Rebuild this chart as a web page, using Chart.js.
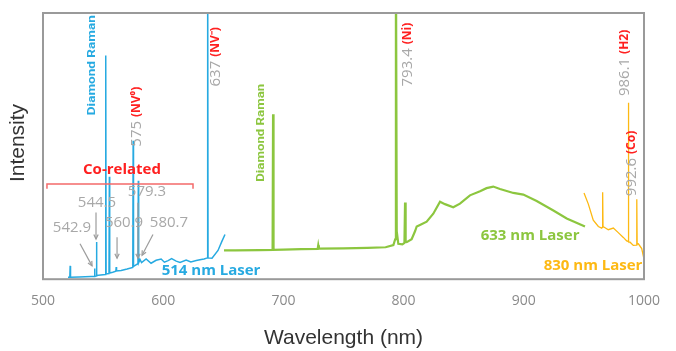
<!DOCTYPE html>
<html>
<head>
<meta charset="utf-8">
<script src="https://cdn.jsdelivr.net/npm/chart.js@4.4.1/dist/chart.umd.min.js"></script>
<style>
    html, body { margin: 0; padding: 0; background: #ffffff; }
    #wrap { width: 676px; height: 351px; }
</style>
</head>
<body>
<div id="wrap"><canvas id="spectrumChart" width="676" height="351"></canvas></div>
<script>
// ========================================
// PL SPECTRA - 514 / 633 / 830 nm LASER
// ========================================

// Eixo X
const xTickValues = [500, 600, 700, 800, 900, 1000];

// 514 nm laser (azul)
const blueWl = [520.8, 522.3, 522.6, 522.9, 530, 540, 542.6, 542.9, 543.2, 544.2, 544.5, 544.8,
    548, 551.9, 552.2, 552.5, 554.9, 555.2, 555.5, 558, 560.6, 560.9, 561.2, 565, 570,
    574.7, 575.0, 575.3, 577, 579.0, 579.3, 579.6, 580.7, 582, 585.8, 589.9, 594.1, 598.3,
    601, 604.1, 607, 610.8, 614, 619.1, 623, 627.5, 631.6, 634, 636.7, 637.0, 637.3,
    640.6, 645.6, 648.9, 651.4];
const blueInt = [0.7, 0.7, 5, 0.7, 0.8, 1.0, 1.0, 4, 1.1, 1.2, 14, 1.4,
    1.6, 1.8, 84, 2.0, 2.1, 38.5, 2.3, 2.6, 3.0, 4.6, 3.1, 3.3, 3.8,
    4.4, 52, 4.8, 5.3, 5.8, 37, 6.2, 7.4, 6.2, 7.6, 6.0, 7.1, 7.6,
    6.4, 7.0, 7.7, 6.8, 6.3, 7.2, 6.5, 7.0, 7.4, 7.6, 8.0, 130, 8.0,
    7.9, 10.8, 14.3, 16.8];

// 633 nm laser (verde)
const greenWl = [650.6, 660, 680, 691.0, 691.4, 691.8, 700, 715, 728.5, 729.0, 729.5, 750, 770,
    785, 791.5, 793.0, 793.6, 794.3, 795.6, 799, 800.7, 801.2, 801.7, 802.6, 806.7, 809.5,
    810.9, 813.6, 819.2, 824.7, 830.3, 834.4, 841.3, 846.9, 855.2, 863.6, 869, 874.6, 880.2,
    891.3, 899.6, 910.7, 924.6, 935.7, 950.9];
const greenInt = [10.8, 10.8, 10.9, 11.0, 62, 11.0, 11.1, 11.3, 11.4, 12.8, 11.5, 11.6, 11.8,
    12.0, 12.8, 15, 130, 18, 13.3, 13.1, 13.6, 28.8, 14.0, 13.9, 15, 18,
    19.8, 20.4, 21.6, 24.6, 29.1, 28.2, 27, 28.4, 31.5, 33, 34.2, 34.8, 33.9,
    32.4, 31.8, 29.4, 25.8, 22.8, 19.8];

// 830 nm laser (laranja)
const orangeWl = [950.1, 953.7, 957.8, 962, 964.8, 965.3, 965.6, 965.9, 966.7, 970.3, 974.5,
    978.6, 982.8, 985.6, 986.7, 987.0, 987.3, 988.4, 991.1, 993.7, 994.0, 994.3, 995.3,
    998.1, 1000];
const orangeInt = [32.4, 28.2, 22.2, 19.8, 19.2, 19.5, 32.7, 19.8, 19.8, 18.6, 19.2,
    17.5, 15.7, 14.4, 14.2, 66.3, 14.0, 13.9, 12.7, 12.8, 30, 13.2, 13.3,
    11.5, 7.5];

const BLUE = '#27aae1';
const GREEN = '#8cc63f';
const ORANGE = '#fdb913';
const RED = '#ff2020';
const GRAY = '#a8a8a8';

function toPoints(xs, ys) {
    return xs.map((x, i) => ({ x: x, y: ys[i] }));
}

// Rótulos verticais (comprimento-de-onda, base em intensidade)
const peakLabels = [
    { wl: 540.8, base: 61.6, len: 100, parts: [{ t: 'Diamond Raman', c: BLUE, f: 'bold 11px Roboto' }] },
    { wl: 578.2, base: 49.8, parts: [{ t: '575 ', c: GRAY, f: '15px "Open Sans"' }, { t: '(NV\u2070)', c: RED, f: 'bold 12px "Open Sans"' }] },
    { wl: 643.9, base: 72.4, parts: [{ t: '637 ', c: GRAY, f: '15px "Open Sans"' }, { t: '(NV\u207B)', c: RED, f: 'bold 12px "Open Sans"' }] },
    { wl: 803.7, base: 72.4, parts: [{ t: '793.4 ', c: GRAY, f: '15px "Open Sans"' }, { t: '(Ni)', c: RED, f: 'bold 12px "Open Sans"' }] },
    { wl: 681.4, base: 36.6, len: 98, parts: [{ t: 'Diamond Raman', c: GREEN, f: 'bold 11px Roboto' }] },
    { wl: 984.2, base: 68.8, parts: [{ t: '986.1 ', c: GRAY, f: '15px "Open Sans"' }, { t: '(H2)', c: RED, f: 'bold 12px "Open Sans"' }] },
    { wl: 990.0, base: 31.2, parts: [{ t: '992.6 ', c: GRAY, f: '15px "Open Sans"' }, { t: '(Co)', c: RED, f: 'bold 12px "Open Sans"' }] }
];

// Rótulos horizontais
const flatLabels = [
    { t: 'Co-related', wl: 565.7, v: 41.2, c: RED, f: 'bold 15px "Open Sans"' },
    { t: '544.5', wl: 544.9, v: 28.7, c: GRAY, f: '15px "Open Sans"' },
    { t: '542.9', wl: 524.1, v: 19.4, c: GRAY, f: '15px "Open Sans"' },
    { t: '560.9', wl: 567.4, v: 21.1, c: GRAY, f: '15px "Open Sans"' },
    { t: '579.3', wl: 586.5, v: 33.0, c: GRAY, f: '15px "Open Sans"' },
    { t: '580.7', wl: 604.8, v: 21.1, c: GRAY, f: '15px "Open Sans"' },
    { t: '514 nm Laser', wl: 639.8, v: 3.2, c: BLUE, f: 'bold 15px "Open Sans"' },
    { t: '633 nm Laser', wl: 905.2, v: 16.5, c: GREEN, f: 'bold 15px "Open Sans"' },
    { t: '830 nm Laser', wl: 957.6, v: 5.0, c: ORANGE, f: 'bold 15px "Open Sans"' }
];

// Setas [wl0, v0, wl1, v1]
const arrows = [
    [530.8, 13.3, 540.8, 5.0],
    [544.1, 25.1, 544.1, 15.1],
    [561.6, 15.8, 561.6, 7.9],
    [579.0, 28.7, 579.0, 7.9],
    [591.5, 16.8, 582.4, 9.0]
];

// Chave "Co-related"
const bracket = { wl0: 503.3, wl1: 624.8, v: 35.8, drop: 1.8 };

const annotationsPlugin = {
    id: 'annotations',
    afterDatasetsDraw(chart) {
        const ctx = chart.ctx;
        const xs = chart.scales.x;
        const ys = chart.scales.y;
        const area = chart.chartArea;

        ctx.save();

        // moldura
        ctx.strokeStyle = '#9a9a9a';
        ctx.lineWidth = 2;
        ctx.strokeRect(area.left, area.top, area.right - area.left, area.bottom - area.top);

        // rótulos verticais
        peakLabels.forEach(lbl => {
            ctx.save();
            ctx.translate(xs.getPixelForValue(lbl.wl), ys.getPixelForValue(lbl.base));
            ctx.rotate(-Math.PI / 2);
            ctx.textBaseline = 'middle';
            ctx.textAlign = 'left';
            if (lbl.len) {
                ctx.font = lbl.parts[0].f;
                const w = ctx.measureText(lbl.parts[0].t).width;
                ctx.scale(lbl.len / w, 1);
            }
            let off = 0;
            lbl.parts.forEach(p => {
                ctx.font = p.f;
                ctx.fillStyle = p.c;
                ctx.fillText(p.t, off, 0);
                off += ctx.measureText(p.t).width;
            });
            ctx.restore();
        });

        // rótulos horizontais
        ctx.textAlign = 'center';
        ctx.textBaseline = 'middle';
        flatLabels.forEach(lbl => {
            ctx.font = lbl.f;
            ctx.fillStyle = lbl.c;
            ctx.fillText(lbl.t, xs.getPixelForValue(lbl.wl), ys.getPixelForValue(lbl.v));
        });

        // setas
        ctx.strokeStyle = '#9c9c9c';
        ctx.fillStyle = '#9c9c9c';
        ctx.lineWidth = 1.2;
        arrows.forEach(a => {
            const x0 = xs.getPixelForValue(a[0]), y0 = ys.getPixelForValue(a[1]);
            const x1 = xs.getPixelForValue(a[2]), y1 = ys.getPixelForValue(a[3]);
            const ang = Math.atan2(y1 - y0, x1 - x0);
            ctx.beginPath();
            ctx.moveTo(x0, y0);
            ctx.lineTo(x1, y1);
            ctx.stroke();
            ctx.beginPath();
            ctx.moveTo(x1 - 5 * Math.cos(ang - 0.45), y1 - 5 * Math.sin(ang - 0.45));
            ctx.lineTo(x1, y1);
            ctx.lineTo(x1 - 5 * Math.cos(ang + 0.45), y1 - 5 * Math.sin(ang + 0.45));
            ctx.stroke();
        });

        // chave
        const bx0 = xs.getPixelForValue(bracket.wl0);
        const bx1 = xs.getPixelForValue(bracket.wl1);
        const by = ys.getPixelForValue(bracket.v);
        const byd = ys.getPixelForValue(bracket.v - bracket.drop);
        ctx.strokeStyle = '#f46a6a';
        ctx.lineWidth = 1.5;
        ctx.beginPath();
        ctx.moveTo(bx0, byd);
        ctx.lineTo(bx0, by);
        ctx.lineTo(bx1, by);
        ctx.lineTo(bx1, byd);
        ctx.stroke();

        // títulos dos eixos
        ctx.fillStyle = '#333333';
        ctx.font = '21px "Liberation Sans"';
        ctx.textAlign = 'center';
        ctx.textBaseline = 'middle';
        ctx.fillText('Wavelength (nm)', (area.left + area.right) / 2, 338);
        ctx.save();
        ctx.translate(18, 143);
        ctx.rotate(-Math.PI / 2);
        ctx.fillText('Intensity', 0, 0);
        ctx.restore();

        ctx.restore();
    }
};

const ctx = document.getElementById('spectrumChart').getContext('2d');

const spectrumChart = new Chart(ctx, {
    type: 'line',
    data: {
        datasets: [
            {
                label: '514 nm Laser',
                data: toPoints(blueWl, blueInt),
                borderColor: BLUE,
                borderWidth: 1.5
            },
            {
                label: '633 nm Laser',
                data: toPoints(greenWl, greenInt),
                borderColor: GREEN,
                borderWidth: 2.2
            },
            {
                label: '830 nm Laser',
                data: toPoints(orangeWl, orangeInt),
                borderColor: ORANGE,
                borderWidth: 1.3
            }
        ]
    },
    options: {
        responsive: false,
        animation: false,
        parsing: false,
        elements: {
            point: { radius: 0 },
            line: { tension: 0, fill: false }
        },
        layout: {
            padding: { left: 43, right: 32, top: 13, bottom: 29 }
        },
        plugins: {
            legend: { display: false },
            tooltip: { enabled: false }
        },
        scales: {
            x: {
                type: 'linear',
                min: 500,
                max: 1000,
                afterBuildTicks: axis => {
                    axis.ticks = xTickValues.map(v => ({ value: v }));
                },
                grid: { display: false, drawTicks: false },
                border: { display: false },
                ticks: {
                    color: '#8a8a8a',
                    padding: 13,
                    maxRotation: 0,
                    font: { family: 'Open Sans', size: 14 },
                    callback: value => String(value)
                }
            },
            y: {
                display: false,
                min: 0,
                max: 100
            }
        }
    },
    plugins: [annotationsPlugin]
});
</script>
</body>
</html>
